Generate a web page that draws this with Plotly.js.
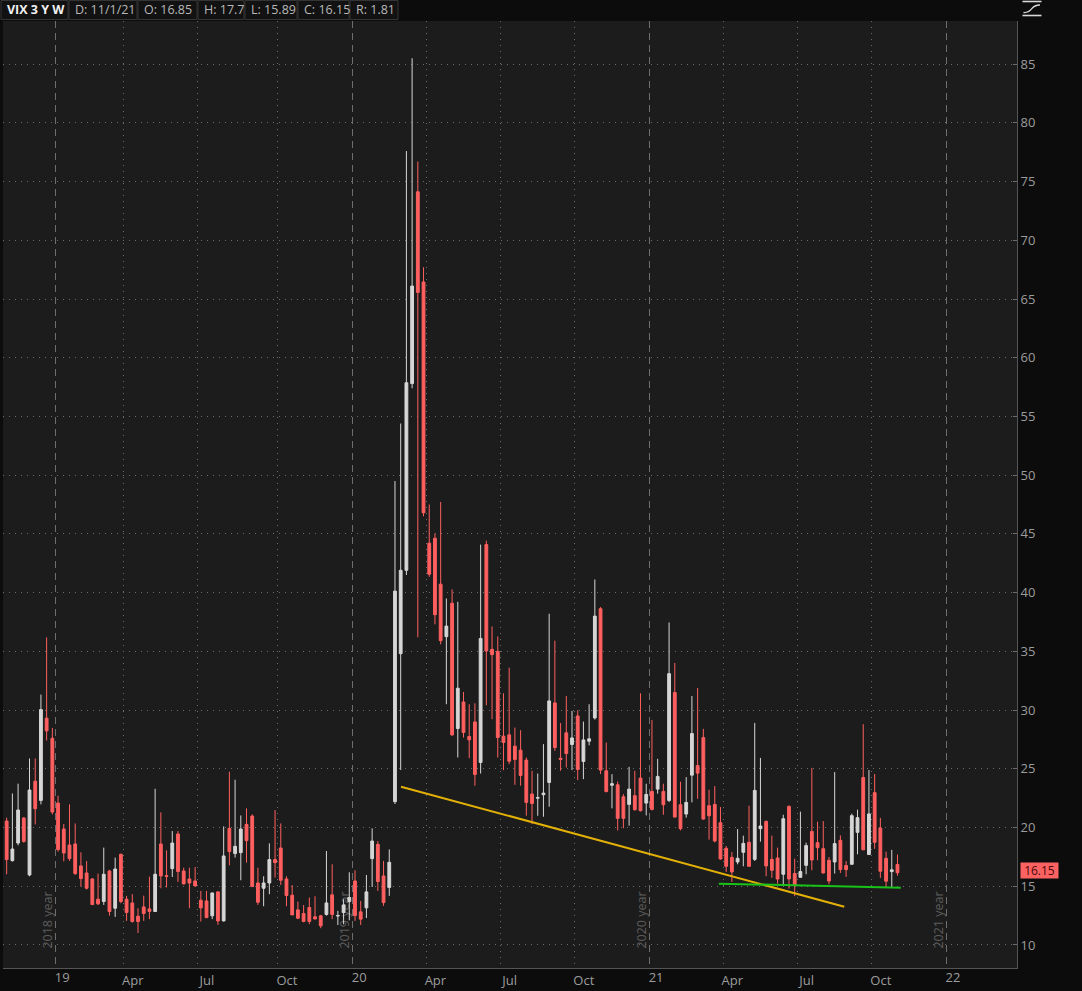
<!DOCTYPE html>
<html><head><meta charset="utf-8">
<script src="https://cdn.plot.ly/plotly-3.0.1.min.js"></script>
<style>html,body{margin:0;padding:0;background:#0c0c0c;overflow:hidden}#chart{width:1082px;height:991px;}</style>
</head><body><div id="chart"></div>
<script>
// Weekly VIX candles, first week starting Monday 2018-11-05
const firstWeek = '2018-11-05';
const openVals = [20.55,17.18,18.68,20.81,15.96,23.95,22.31,29.31,27.6,22.08,
19.87,18.51,18.6,16.73,16.13,15.62,13.9,13.7,16.3,13.13,
17.72,13.9,13.58,12.45,13.24,13.07,12.85,18.6,15.9,16.5,
19.45,16.3,15.62,15.45,13.81,13.75,12.48,14.52,12.05,19.93,
17.78,17.86,20.27,20.98,15.28,14.83,15.28,17.27,18.26,15.62,
14.24,12.99,12.68,13.19,12.4,12.48,12.6,14.27,12.47,12.76,
13.7,15.45,12.82,13.16,17.35,18.57,15.88,14.9,22.2,34.8,
41.9,57.8,74.13,66.45,44.21,44.63,40.72,36.25,39.1,28.43,
30.69,27.75,28.99,25.54,44.09,35.17,35.0,27.78,27.89,26.93,
26.59,25.74,22.85,22.5,22.79,23.84,30.61,25.9,28.06,27.07,
29.5,25.62,27.35,29.33,38.63,24.83,23.6,23.64,22.62,21.97,
22.71,24.21,22.08,23.07,23.27,23.07,22.31,31.49,21.94,21.15,
24.46,25.28,27.66,21.86,21.97,20.41,18.23,17.46,17.07,17.89,
18.74,17.29,19.9,20.52,17.29,17.41,16.02,21.8,16.08,15.76,
16.78,19.67,18.71,18.2,17.21,17.07,18.91,16.76,16.87,19.59,
24.26,17.7,22.97,19.96,17.38,16.25,16.85];
const highVals = [20.84,22.9,23.73,20.9,25.88,25.88,31.32,36.19,28.48,22.71,
20.3,21.97,20.35,17.89,17.15,15.7,16.08,18.29,16.4,17.44,
17.78,14.18,14.33,13.13,14.2,15.82,23.3,21.29,18.06,19.7,
19.7,16.58,16.58,16.64,14.6,14.6,14.45,14.6,20.1,24.75,
24.07,21.03,21.63,21.12,16.58,15.85,18.65,21.49,20.35,15.85,
15.1,13.7,13.4,14.04,14.15,12.56,18.0,16.87,12.9,13.9,
16.19,16.36,13.75,15.96,19.93,18.85,17.15,18.14,49.5,54.4,
77.6,85.5,76.71,67.7,47.5,45.03,47.72,39.5,40.27,39.22,
31.54,30.5,30.58,44.09,44.43,37.12,36.27,31.43,33.61,28.51,
28.29,25.96,24.83,24.6,27.1,38.2,35.91,28.9,31.2,29.93,
29.99,29.02,30.5,41.12,38.77,27.24,24.55,23.92,22.85,25.17,
24.83,31.43,23.73,29.16,25.85,23.73,37.46,34.01,23.9,24.29,
31.2,31.88,28.4,23.22,23.53,21.74,18.43,17.92,19.87,19.31,
21.86,28.91,25.93,20.6,19.31,18.29,21.09,21.88,17.35,21.35,
18.71,25.08,20.5,20.55,17.49,24.72,19.33,17.15,21.18,21.52,
28.8,24.9,24.56,20.82,17.95,18.1,17.7];
const lowVals = [16.02,17.1,18.48,18.7,15.85,20.27,21.97,27.41,21.12,17.95,
17.12,17.15,15.96,14.97,14.72,13.4,13.4,13.41,12.5,12.39,
13.55,12.05,11.9,11.02,12.05,12.2,12.8,14.83,14.9,15.79,
15.37,15.17,13.13,15.0,12.0,12.28,12.2,11.71,12.0,16.78,
17.44,15.51,17.01,14.95,13.41,13.3,14.32,15.74,15.11,13.3,
12.55,12.2,11.93,11.77,12.16,11.43,12.5,12.2,11.7,11.77,
12.1,12.05,11.7,12.3,14.94,14.6,13.33,14.18,22.0,24.9,
41.5,57.4,36.2,46.5,41.35,37.3,35.6,30.5,27.8,25.96,
27.66,25.91,23.56,24.6,30.41,29.22,25.96,24.89,25.4,23.64,
23.56,21.01,20.3,21.0,20.92,21.77,26.53,24.83,25.11,24.89,
24.04,24.12,27.0,29.19,24.55,22.99,21.63,19.75,19.94,20.16,
21.43,21.37,21.03,21.46,22.88,21.09,22.17,20.85,19.76,20.84,
22.14,22.45,20.67,18.97,18.74,17.27,16.22,15.37,16.87,16.7,
16.65,17.15,18.8,15.85,15.71,15.23,15.08,14.8,14.15,15.74,
16.02,16.36,17.21,16.08,15.17,16.08,16.13,15.79,16.87,17.72,
18.1,17.7,18.18,15.71,14.91,14.91,15.89];
const closeVals = [17.27,18.17,21.49,18.82,23.19,21.6,30.04,28.23,21.32,18.12,
17.83,17.35,16.08,15.65,14.83,13.44,13.5,16.02,12.85,16.47,
13.7,12.76,12.0,12.0,12.68,12.85,16.02,15.88,15.85,18.68,
16.25,15.2,15.28,15.03,13.16,12.33,14.43,12.05,17.58,17.95,
18.4,19.87,18.88,14.97,13.64,15.28,17.27,17.01,15.51,14.21,
12.56,12.28,12.0,12.0,12.22,11.63,13.58,12.6,12.5,13.41,
14.04,12.5,12.2,14.52,18.85,15.4,13.61,17.04,40.13,41.9,
57.87,66.1,65.56,46.8,41.57,38.12,35.91,37.15,27.89,31.86,
28.09,27.47,24.52,36.1,35.03,34.72,27.66,27.24,25.65,25.79,
24.43,22.14,22.05,22.55,22.93,30.78,26.81,25.8,26.3,27.63,
24.94,27.46,27.55,38.0,24.89,23.07,23.73,20.78,20.78,23.27,
21.52,21.43,22.82,21.54,24.35,21.94,33.1,20.89,19.9,22.14,
28.0,24.63,20.72,21.0,18.85,17.32,16.7,16.22,17.38,18.65,
16.7,23.16,20.13,16.73,16.36,15.62,20.75,15.62,15.08,16.25,
18.46,17.24,18.29,16.13,15.45,18.63,16.42,16.42,21.01,20.84,
18.1,21.16,18.74,16.28,15.43,16.4,16.15];

// Axis ticks (month boundaries, drawn half a bar before the month's first weekly bar)
const monthTickVals = ['2019-03-28 12:00','2019-06-27 12:00','2019-10-03 12:00','2020-04-02 12:00','2020-07-02 12:00','2020-10-01 12:00','2021-04-01 12:00','2021-07-01 12:00','2021-09-30 12:00'];
const monthTickText = ['Apr','Jul','Oct','Apr','Jul','Oct','Apr','Jul','Oct'];
const yearTickVals = ['2019-01-03 12:00','2020-01-02 12:00','2020-12-31 12:00','2021-12-30 12:00'];
const yearTickText = ['19','20','21','22'];
const yearLabels = ['2018 year','2019 year','2020 year','2021 year'];
const priceTicks = [10,15,20,25,30,35,40,45,50,55,60,65,70,75,80,85];

// Drawn trendlines
const trendX = ['2020-03-02 09:00','2021-08-27 19:00'];
const trendY = [23.48, 13.26];
const supportX = ['2021-03-27','2021-11-05'];
const supportY = [15.22, 14.88];

// Header
const headerLabels = ['VIX 3 Y W','D: 11/1/21','O: 16.85','H: 17.7','L: 15.89','C: 16.15','R: 1.81'];
const lastPrice = 16.15;

// ---- build ----
const weeks = [];
{
  const d0 = new Date(firstWeek + 'T00:00:00Z');
  for (let i = 0; i < openVals.length; i++) {
    const d = new Date(d0.getTime() + i * 7 * 86400000);
    weeks.push(d.toISOString().slice(0, 10));
  }
}
const xRange = ['2018-10-31 12:00', '2022-03-27 12:00'];
const yRange = [8.04, 88.67];

// pixel helpers for decoration placement (plot area: x 3..1017, y 21..968)
const PX = p => (p - 3) / 1014;
const PY = p => (968 - p) / 947;
const shiftDate = (s, px) => {
  const ms0 = Date.parse(xRange[0].replace(' ', 'T') + 'Z'), ms1 = Date.parse(xRange[1].replace(' ', 'T') + 'Z');
  const ms = Date.parse(s.replace(' ', 'T') + 'Z') + px * (ms1 - ms0) / 1014;
  return new Date(ms).toISOString().replace('T', ' ').slice(0, 19);
};

const traces = [
  {
    type: 'candlestick', x: weeks, open: openVals, high: highVals, low: lowVals, close: closeVals,
    increasing: {line: {color: '#d6d6d6', width: 1}, fillcolor: '#d6d6d6'},
    decreasing: {line: {color: '#ff5f5f', width: 1}, fillcolor: '#ff5f5f'},
    whiskerwidth: 0, hoverinfo: 'skip', showlegend: false
  },
  {type: 'scatter', mode: 'lines', x: trendX, y: trendY, xaxis: 'x2', line: {color: '#e2b007', width: 2}, hoverinfo: 'skip', showlegend: false},
  {type: 'scatter', mode: 'lines', x: supportX, y: supportY, xaxis: 'x2', line: {color: '#19c219', width: 2}, hoverinfo: 'skip', showlegend: false}
];

const shapes = [];
const annotations = [];
const boxes = [[1,68],[69,137],[138,197],[198,244],[245,297],[298,349],[350,398]];
headerLabels.forEach((t, i) => {
  const [l, r] = boxes[i];
  shapes.push({type: 'rect', xref: 'paper', yref: 'paper', x0: PX(l), x1: PX(r), y0: PY(19.5), y1: PY(0.5),
    fillcolor: '#121212', line: {color: '#343434', width: 1}, layer: 'above'});
  annotations.push({xref: 'paper', yref: 'paper', x: PX(l + 4), y: PY(10), xanchor: 'left', yanchor: 'middle',
    text: i === 0 ? '<b>' + t + '</b>' : t, showarrow: false,
    font: {family: 'Open Sans, sans-serif', size: 12.5, color: i === 0 ? '#f2f2f2' : '#b8b8b8'}});
});
// top-right icon: two bars and a wave
const iconLine = {color: '#d8d8d8', width: 1.6};
shapes.push({type: 'path', xref: 'paper', yref: 'paper', layer: 'above',
  path: `M${PX(1022.5)},${PY(1.5)} L${PX(1041.5)},${PY(1.5)}`, line: iconLine});
shapes.push({type: 'path', xref: 'paper', yref: 'paper', layer: 'above',
  path: `M${PX(1022.5)},${PY(15.5)} L${PX(1041.5)},${PY(15.5)}`, line: iconLine});
shapes.push({type: 'path', xref: 'paper', yref: 'paper', layer: 'above',
  path: `M${PX(1023.5)},${PY(12.5)} C${PX(1033)},${PY(13.5)} ${PX(1030)},${PY(4.5)} ${PX(1040)},${PY(5)}`,
  line: {color: '#d8d8d8', width: 1.3}});

// year labels (vertical, drawn beneath the candles)
yearTickVals.forEach((v, i) => {
  const xs = shiftDate(v, 1);
  shapes.push({type: 'line', xref: 'x', x0: xs, x1: xs,
    yref: 'paper', y0: PY(948), y1: PY(892), layer: 'below',
    line: {width: 0.1, color: 'rgba(0,0,0,0)'},
    label: {text: yearLabels[i], textangle: -90, textposition: 'middle', padding: 0,
      font: {family: 'Open Sans, sans-serif', size: 12.5, color: '#5c5c5c'}}});
});
// last price tag
annotations.push({xref: 'paper', yref: 'y', x: 1, xshift: 3, y: lastPrice, yshift: 2, xanchor: 'left', yanchor: 'middle',
  text: lastPrice.toFixed(2), showarrow: false, bgcolor: '#fc6262', borderpad: 1, width: 35, height: 13, align: 'center',
  font: {family: 'Open Sans, sans-serif', size: 12, color: '#4a0808'}});

const axisFont = {family: 'Open Sans, sans-serif', size: 13, color: '#9c9c9c'};
const layout = {
  width: 1082, height: 991,
  margin: {l: 3, r: 65, t: 21, b: 23, pad: 0},
  paper_bgcolor: '#0c0c0c', plot_bgcolor: '#1c1c1c',
  showlegend: false,
  xaxis: {type: 'date', range: xRange, rangeslider: {visible: false},
    tickmode: 'array', tickvals: monthTickVals, ticktext: monthTickText,
    showgrid: true, gridcolor: '#6a6a6a', gridwidth: 1, griddash: '1px,5px',
    ticks: '', showline: true, linecolor: '#555', linewidth: 1, tickfont: axisFont,
    ticklabelshift: 9, zeroline: false, fixedrange: true},
  xaxis2: {type: 'date', range: xRange, overlaying: 'x', anchor: 'y', side: 'bottom',
    tickmode: 'array', tickvals: yearTickVals, ticktext: yearTickText,
    showgrid: true, gridcolor: '#6e6e6e', gridwidth: 1, griddash: '7px,5px',
    ticks: '', showline: false, tickfont: axisFont, ticklabelshift: 7, zeroline: false, fixedrange: true},
  yaxis: {range: yRange, side: 'right', tickmode: 'array', tickvals: priceTicks,
    showgrid: true, gridcolor: '#6a6a6a', gridwidth: 1, griddash: '1px,5px',
    ticks: 'inside', ticklen: 4, tickcolor: '#6a6a6a', showline: true, linecolor: '#555', linewidth: 1,
    tickfont: axisFont, zeroline: false, fixedrange: true},
  shapes: shapes,
  annotations: annotations
};

Plotly.newPlot('chart', traces, layout, {displayModeBar: false, staticPlot: true});
</script>
</body></html>
